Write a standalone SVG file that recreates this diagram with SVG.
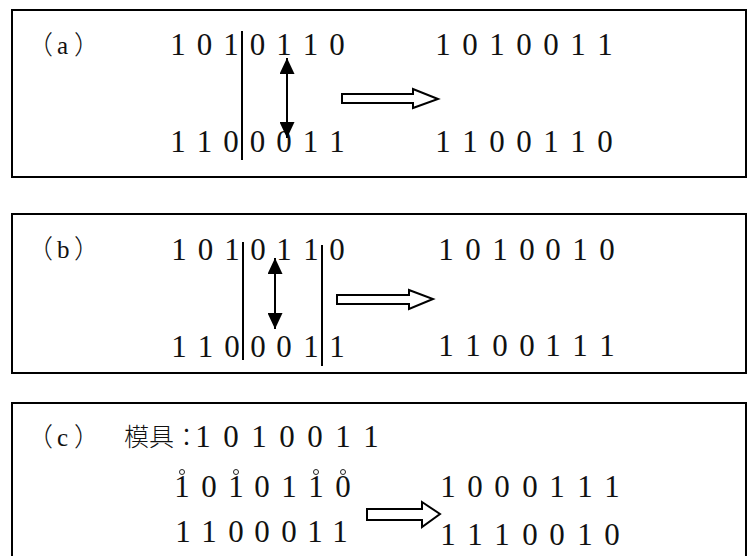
<svg xmlns="http://www.w3.org/2000/svg" width="748" height="556" viewBox="0 0 748 556">
<defs>
<style>
.box{fill:#fff;stroke:#000;stroke-width:2}
.d{font-family:"Liberation Serif","Noto Sans CJK TC",serif;font-size:31px;fill:#111;text-anchor:middle}
.lbl{font-family:"Liberation Serif","Noto Sans CJK TC",serif;font-size:25px;fill:#111}
.p{font-family:"Noto Sans CJK TC","Noto Sans CJK SC",sans-serif;font-size:26px;font-weight:300}
.cjk{font-family:"Noto Sans CJK TC","Noto Sans CJK SC",sans-serif;font-size:25px;fill:#111;font-weight:300}
.div{stroke:#000;stroke-width:2;fill:none}
.dbl{stroke:#000;stroke-width:2;fill:none;marker-start:url(#tri);marker-end:url(#tri)}
.hollow{fill:#fff;stroke:#000;stroke-width:2;stroke-linejoin:miter}
.ring{fill:#fff;stroke:#222;stroke-width:1}
</style>
<marker id="tri" viewBox="0 0 16 15" refX="16" refY="7.5" markerWidth="16" markerHeight="15" markerUnits="userSpaceOnUse" orient="auto-start-reverse">
<path d="M0,0 L16,7.5 L0,15 z" fill="#000"/>
</marker>
</defs>
<rect width="748" height="556" fill="#fff"/>

<g id="panel-a">
<rect class="box" x="12" y="10" width="734" height="167"/>
<text class="lbl" y="54"><tspan class="p" x="27">（</tspan><tspan x="57">a</tspan><tspan class="p" x="74">）</tspan></text>
<text class="d" x="178 204.5 231 257.5 284 310.5 337" y="55">1010110</text>
<text class="d" x="178 204.5 231 257.5 284 310.5 337" y="152">1100011</text>
<text class="d" x="443 470 497 524 551 578 605" y="55">1010011</text>
<text class="d" x="443 470 497 524 551 578 605" y="152">1100110</text>
</g>

<g id="panel-b">
<rect class="box" x="12" y="214" width="734" height="159"/>
<text class="lbl" y="258"><tspan class="p" x="27">（</tspan><tspan x="57">b</tspan><tspan class="p" x="74">）</tspan></text>
<text class="d" x="179 205.5 232 258 284 311 337" y="260">1010110</text>
<text class="d" x="179 205.5 232 258 284 311 337" y="357">1100011</text>
<text class="d" x="446 473 500 527 553 580 607" y="260">1010010</text>
<text class="d" x="446 473 500 527 553 580 607" y="356">1100111</text>
</g>

<g id="panel-c">
<rect class="box" x="12" y="403" width="734" height="160"/>
<text class="lbl" y="446"><tspan class="p" x="27">（</tspan><tspan x="57">c</tspan><tspan class="p" x="74">）</tspan></text>
<text class="cjk" x="124" y="446">模具：</text>
<text class="d" x="203 231 259 287 315 343 371" y="447">1010011</text>
<text class="d" x="182 209 236 262 289 316 343" y="497">1010110</text>
<circle class="ring" cx="182" cy="472" r="2.5"/>
<circle class="ring" cx="236" cy="472" r="2.5"/>
<circle class="ring" cx="316" cy="472" r="2.5"/>
<circle class="ring" cx="343" cy="472" r="2.5"/>
<text class="d" x="183 209 236 262 289 315 340" y="542">1100011</text>
<text class="d" x="448 475 502 530 557 585 612" y="497">1000111</text>
<text class="d" x="448 475 502 530 557 585 612" y="545">1110010</text>
</g>

<g id="connectors">
<line class="div" x1="242" y1="31" x2="242" y2="160"/>
<line class="dbl" x1="287" y1="58" x2="287" y2="138"/>
<polygon class="hollow" points="342,94 413,94 413,89 438,99 413,108 413,103 342,103"/>

<line class="div" x1="243" y1="242" x2="243" y2="360"/>
<line class="div" x1="322" y1="245" x2="322" y2="366"/>
<line class="dbl" x1="275" y1="258" x2="275" y2="329"/>
<polygon class="hollow" points="337,295 409,295 409,290 433,299 409,309 409,304 337,304"/>

<polygon class="hollow" points="367,509 422,509 422,502 440,514 422,527 422,520 367,520"/>
</g>
</svg>
